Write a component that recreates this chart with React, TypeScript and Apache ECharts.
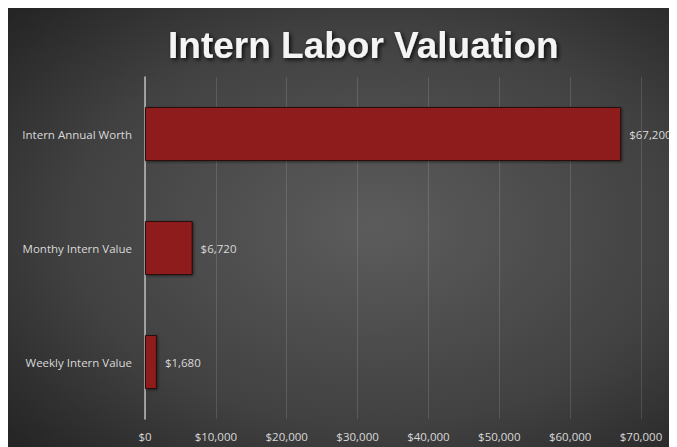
import React, { useEffect, useRef } from "react";
import * as echarts from "echarts";

const categories = ["Weekly Intern Value", "Monthy Intern Value", "Intern Annual Worth"];
const values = [1680, 6720, 67200];
const xTicks = { min: 0, max: 70000, interval: 10000 };
const titleText = "Intern Labor Valuation";

const fmt = (v: number) => "$" + v.toLocaleString("en-US");

export default function App() {
  const ref = useRef<HTMLDivElement>(null);
  useEffect(() => {
    document.documentElement.style.overflow = "hidden";
    if (!ref.current) return;
    const chart = echarts.init(ref.current, undefined, { renderer: "svg" });
    chart.setOption({
      animation: false,
      backgroundColor: {
        type: "radial",
        x: 0.54,
        y: 0.5,
        r: 0.75,
        colorStops: [
          { offset: 0, color: "#5c5c5c" },
          { offset: 0.6, color: "#414141" },
          { offset: 1, color: "#222222" },
        ],
      },
      title: {
        text: titleText,
        left: 155,
        top: 14,
        textStyle: {
          color: "#f4f4f4",
          fontFamily: "Liberation Sans",
          fontWeight: "bold",
          fontSize: 37,
          textShadowColor: "rgba(0,0,0,0.8)",
          textShadowBlur: 4,
          textShadowOffsetX: 2,
          textShadowOffsetY: 2,
        },
      },
      grid: { left: 137, top: 69, right: 47, bottom: 28 },
      xAxis: {
        type: "value",
        min: xTicks.min,
        max: xTicks.max,
        interval: xTicks.interval,
        axisLine: { show: false },
        axisTick: { show: false },
        splitLine: { show: true, lineStyle: { color: "rgba(255,255,255,0.13)", width: 1 } },
        axisLabel: {
          color: "#d9d9d9",
          fontFamily: "Open Sans",
          fontSize: 11.5,
          margin: 11,
          formatter: (v: number) => fmt(v),
        },
      },
      yAxis: {
        type: "category",
        data: categories,
        axisLine: { show: true, lineStyle: { color: "#bdbdbd", width: 1.5 } },
        axisTick: { show: false },
        axisLabel: {
          color: "#d9d9d9",
          fontFamily: "Open Sans",
          fontSize: 11.5,
          margin: 13,
        },
      },
      series: [
        {
          type: "bar",
          data: values,
          barWidth: 54,
          itemStyle: {
            color: "#8e1a1a",
            borderColor: "#2a0808",
            borderWidth: 1,
            shadowColor: "rgba(0,0,0,0.5)",
            shadowBlur: 3,
            shadowOffsetX: 1,
            shadowOffsetY: 1,
          },
          label: {
            show: true,
            position: "right",
            distance: 8,
            color: "#d9d9d9",
            fontFamily: "Open Sans",
            fontSize: 11.5,
            formatter: (p: any) => fmt(p.value),
          },
        },
      ],
    });
    return () => chart.dispose();
  }, []);
  return <div ref={ref} style={{ width: 680, height: 439 }} />;
}
